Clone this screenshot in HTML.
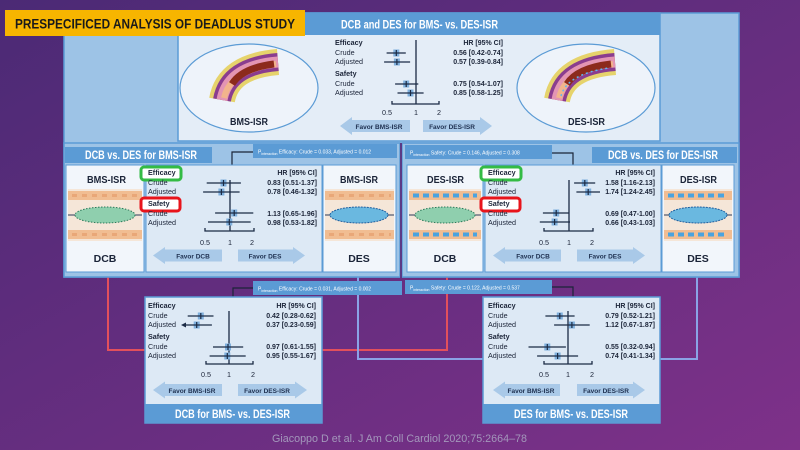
<!DOCTYPE html>
<html><head><meta charset="utf-8"><style>
html,body{margin:0;padding:0;width:800px;height:450px;overflow:hidden}
svg{display:block}
text{font-family:"Liberation Sans",sans-serif}
.l{font-size:7.2px;fill:#1b2438}
.b{font-weight:bold}
.v{font-size:7px;fill:#1b2438;font-weight:bold;text-anchor:end}
.h{font-weight:bold;fill:#fff}
.ci{stroke:#1b2b45;stroke-width:1.2}
.pt{fill:#7fb0dd}
.ax{stroke:#1b2b45;stroke-width:1.3;fill:none}
.ar{fill:#a9c9e8}
.at{font-size:6.5px;font-weight:bold;fill:#1e3050;text-anchor:middle}
.pl{font-size:5px;fill:#fff}
</style></head><body>
<svg width="800" height="450" viewBox="0 0 800 450" xmlns="http://www.w3.org/2000/svg">
<defs>
<linearGradient id="bg" x1="0" y1="0" x2="1" y2="1">
<stop offset="0" stop-color="#4b2a75"/><stop offset="1" stop-color="#7e3189"/>
</linearGradient>
</defs>
<rect width="800" height="450" fill="url(#bg)"/>

<rect x="64" y="13" width="675" height="264" fill="#9dc3e6" stroke="#5b9bd5" stroke-width="1.5"/>

<rect x="178" y="13" width="482" height="128" fill="#e4edf7" stroke="#5b9bd5" stroke-width="1.5"/>
<rect x="178" y="13" width="482" height="22" fill="#5b9bd5"/>
<text x="341" y="28.5" class="h" font-size="11.5" textLength="157" lengthAdjust="spacingAndGlyphs">DCB and DES for BMS- vs. DES-ISR</text>

<ellipse cx="249" cy="88" rx="69" ry="44" fill="#eef3fa" stroke="#5b9bd5" stroke-width="1.2"/>
<g fill="none" stroke-linecap="butt">
<path d="M222,100 Q228,66 278,62" stroke="#e6d36c" stroke-width="26"/>
<path d="M222,100 Q228,66 278,62" stroke="#8a3d8f" stroke-width="18"/>
<path d="M222,100 Q228,66 278,62" stroke="#e395b3" stroke-width="11"/>
<path d="M224,98 Q230,70 276,64" stroke="#f2b48c" stroke-width="6"/>
<path d="M232,84 Q242,68 274,64" stroke="#8c2a1c" stroke-width="7"/>
</g>
<text x="230" y="125" class="b" font-size="10.5" fill="#1b2438" textLength="38" lengthAdjust="spacingAndGlyphs">BMS-ISR</text>

<ellipse cx="586" cy="88" rx="69" ry="44" fill="#eef3fa" stroke="#5b9bd5" stroke-width="1.2"/>
<g fill="none">
<path d="M557,100 Q563,66 615,62" stroke="#e6d36c" stroke-width="26"/>
<path d="M557,100 Q563,66 615,62" stroke="#8a3d8f" stroke-width="18"/>
<path d="M557,100 Q563,66 615,62" stroke="#e395b3" stroke-width="11"/>
<path d="M559,98 Q565,70 613,64" stroke="#f2b48c" stroke-width="6"/>
<path d="M567,84 Q577,68 611,64" stroke="#8c2a1c" stroke-width="7"/>
<path d="M561,96 Q567,74 609,68" stroke="#5fb6ef" stroke-width="1.5" stroke-dasharray="2 3"/>
</g>
<text x="568" y="125" class="b" font-size="10.5" fill="#1b2438" textLength="37" lengthAdjust="spacingAndGlyphs">DES-ISR</text>

<text x="335" y="45" class="l b">Efficacy</text>
<text x="335" y="55" class="l">Crude</text>
<text x="335" y="64" class="l">Adjusted</text>
<text x="335" y="76" class="l b">Safety</text>
<text x="335" y="86" class="l">Crude</text>
<text x="335" y="95" class="l">Adjusted</text>
<text x="503" y="45" class="v">HR [95% CI]</text>
<text x="503" y="55" class="v">0.56 [0.42-0.74]</text>
<text x="503" y="64" class="v">0.57 [0.39-0.84]</text>
<text x="503" y="86" class="v">0.75 [0.54-1.07]</text>
<text x="503" y="95" class="v">0.85 [0.58-1.25]</text>
<path class="ax" d="M416,40V104M392,101V104H439V101M416,104"/>
<g>
<rect class="pt" x="393.3" y="49.5" width="6" height="7"/><line class="ci" x1="386.6" x2="405.8" y1="53" y2="53"/><line class="ci" x1="396.3" x2="396.3" y1="50" y2="56"/>
<rect class="pt" x="393.9" y="58.5" width="6" height="7"/><line class="ci" x1="384.1" x2="410.1" y1="62" y2="62"/><line class="ci" x1="396.9" x2="396.9" y1="59" y2="65"/>
<rect class="pt" x="403.2" y="80.5" width="6" height="7"/><line class="ci" x1="395.1" x2="418.3" y1="84" y2="84"/><line class="ci" x1="406.2" x2="406.2" y1="81" y2="87"/>
<rect class="pt" x="407.5" y="89.5" width="6" height="7"/><line class="ci" x1="397.5" x2="423.6" y1="93" y2="93"/><line class="ci" x1="410.5" x2="410.5" y1="90" y2="96"/>
</g>
<text x="387" y="115" class="l" text-anchor="middle">0.5</text><text x="416" y="115" class="l" text-anchor="middle">1</text><text x="439" y="115" class="l" text-anchor="middle">2</text>
<polygon class="ar" points="340,126 352,117 352,120 410,120 410,132 352,132 352,135"/>
<text x="379" y="129" class="at">Favor BMS-ISR</text>
<polygon class="ar" points="492,126 480,117 480,120 423,120 423,132 480,132 480,135"/>
<text x="452" y="129" class="at">Favor DES-ISR</text>

<path d="M108,272V350H447V272" fill="none" stroke="#e2505c" stroke-width="2"/>
<path d="M358,272V359H697V272" fill="none" stroke="#8aa3e6" stroke-width="2"/>

<rect x="64" y="143" width="336" height="134" fill="#9dc3e6" stroke="#5b9bd5" stroke-width="1.5"/>
<rect x="65" y="147" width="147" height="16" fill="#5b9bd5"/>
<text x="85" y="159" class="h" font-size="11.5" textLength="112" lengthAdjust="spacingAndGlyphs">DCB vs. DES for BMS-ISR</text>
<rect x="253" y="144" width="144" height="14" fill="#5b9bd5"/>
<text x="258" y="153.5" class="pl">P<tspan font-size="3.5" dy="1.5">interaction</tspan><tspan dy="-1.5"> Efficacy: Crude = 0.033, Adjusted = 0.012</tspan></text>
<path d="M253,152H232V165" fill="none" stroke="#1b2438" stroke-width="1.2"/>
<rect x="66" y="165" width="78" height="107" fill="#f2f6fb" stroke="#5b9bd5"/>
<rect x="146" y="165" width="176" height="107" fill="#dde9f5" stroke="#5b9bd5"/>
<rect x="323" y="165" width="73" height="107" fill="#f2f6fb" stroke="#5b9bd5"/>
<text x="87" y="183" class="b" font-size="10.5" fill="#1b2438" textLength="39" lengthAdjust="spacingAndGlyphs">BMS-ISR</text>
<rect x="68" y="189" width="74" height="52" fill="#f5e6d8"/>
<rect x="68" y="191" width="74" height="9" fill="#f1bd92"/><rect x="68" y="230" width="74" height="9" fill="#f1bd92"/>
<path d="M72,195.5h66M72,234.5h66" stroke="#e9a778" stroke-width="3" stroke-dasharray="5 5"/>
<line x1="68" x2="142" y1="215" y2="215" stroke="#2a3a5a"/>
<ellipse cx="105" cy="215" rx="30" ry="8" fill="#8fcfae" stroke="#2a7a5a" stroke-dasharray="1.5 1.5"/>
<text x="105" y="262" class="b" font-size="10.5" text-anchor="middle" fill="#1b2438">DCB</text>
<text x="340" y="183" class="b" font-size="10.5" fill="#1b2438" textLength="38" lengthAdjust="spacingAndGlyphs">BMS-ISR</text>
<rect x="325" y="189" width="69" height="52" fill="#f5e6d8"/>
<rect x="325" y="191" width="69" height="9" fill="#f1bd92"/><rect x="325" y="230" width="69" height="9" fill="#f1bd92"/>
<path d="M329,195.5h62M329,234.5h62" stroke="#e9a778" stroke-width="3" stroke-dasharray="5 5"/>
<line x1="325" x2="394" y1="215" y2="215" stroke="#2a3a5a"/>
<ellipse cx="359" cy="215" rx="29" ry="8" fill="#6ab8e0" stroke="#1f5f9f" stroke-dasharray="2 1"/>
<text x="359" y="262" class="b" font-size="10.5" text-anchor="middle" fill="#1b2438">DES</text>
<rect x="141" y="167" width="40" height="13" rx="3" fill="#fff" stroke="#33bb44" stroke-width="3"/>
<rect x="141" y="198" width="39" height="13" rx="3" fill="#fff" stroke="#e8141b" stroke-width="3"/>
<text x="148" y="175" class="l b">Efficacy</text>
<text x="148" y="185" class="l">Crude</text>
<text x="148" y="194" class="l">Adjusted</text>
<text x="148" y="206" class="l b">Safety</text>
<text x="148" y="216" class="l">Crude</text>
<text x="148" y="225" class="l">Adjusted</text>
<text x="317" y="175" class="v">HR [95% CI]</text>
<text x="317" y="185" class="v">0.83 [0.51-1.37]</text>
<text x="317" y="194" class="v">0.78 [0.46-1.32]</text>
<text x="317" y="216" class="v">1.13 [0.65-1.96]</text>
<text x="317" y="225" class="v">0.98 [0.53-1.82]</text>
<path class="ax" d="M230,180V231M205,228V231H254V228"/>
<rect class="pt" x="220.5" y="179.5" width="6" height="7"/><line class="ci" x1="206.7" x2="240.9" y1="183" y2="183"/><line class="ci" x1="223.5" x2="223.5" y1="180" y2="186"/>
<rect class="pt" x="218.4" y="188.5" width="6" height="7"/><line class="ci" x1="203.1" x2="239.6" y1="192" y2="192"/><line class="ci" x1="221.4" x2="221.4" y1="189" y2="195"/>
<rect class="pt" x="231.2" y="209.5" width="6" height="7"/><line class="ci" x1="215.1" x2="253.3" y1="213" y2="213"/><line class="ci" x1="234.2" x2="234.2" y1="210" y2="216"/>
<rect class="pt" x="226.3" y="218.5" width="6" height="7"/><line class="ci" x1="208" x2="250.7" y1="222" y2="222"/><line class="ci" x1="229.3" x2="229.3" y1="219" y2="225"/>
<text x="205" y="245" class="l" text-anchor="middle">0.5</text><text x="230" y="245" class="l" text-anchor="middle">1</text><text x="252" y="245" class="l" text-anchor="middle">2</text>
<polygon class="ar" points="153,255.5 165,247 165,249.5 222,249.5 222,261.5 165,261.5 165,264"/>
<text x="193" y="258.5" class="at">Favor DCB</text>
<polygon class="ar" points="305,255.5 293,247 293,249.5 238,249.5 238,261.5 293,261.5 293,264"/>
<text x="265" y="258.5" class="at">Favor DES</text>

<rect x="402" y="143" width="337" height="134" fill="#9dc3e6" stroke="#5b9bd5" stroke-width="1.5"/>
<line x1="401" x2="401" y1="143" y2="278" stroke="#5a3a86" stroke-width="2"/>
<rect x="592" y="147" width="145" height="16" fill="#5b9bd5"/>
<text x="608" y="159" class="h" font-size="11.5" textLength="110" lengthAdjust="spacingAndGlyphs">DCB vs. DES for DES-ISR</text>
<rect x="405" y="145" width="147" height="14" fill="#5b9bd5"/>
<text x="410" y="154.5" class="pl">P<tspan font-size="3.5" dy="1.5">interaction</tspan><tspan dy="-1.5"> Safety: Crude = 0.146, Adjusted = 0.308</tspan></text>
<path d="M552,153H573V165" fill="none" stroke="#1b2438" stroke-width="1.2"/>
<rect x="407" y="165" width="76" height="107" fill="#f2f6fb" stroke="#5b9bd5"/>
<rect x="485" y="165" width="176" height="107" fill="#dde9f5" stroke="#5b9bd5"/>
<rect x="662" y="165" width="72" height="107" fill="#f2f6fb" stroke="#5b9bd5"/>
<text x="427" y="183" class="b" font-size="10.5" fill="#1b2438" textLength="37" lengthAdjust="spacingAndGlyphs">DES-ISR</text>
<rect x="409" y="189" width="72" height="52" fill="#f5e6d8"/>
<rect x="409" y="191" width="72" height="9" fill="#f1bd92"/><rect x="409" y="230" width="72" height="9" fill="#f1bd92"/>
<path d="M413,195.5h64M413,234.5h64" stroke="#4aa3df" stroke-width="4" stroke-dasharray="6 4"/>
<line x1="409" x2="481" y1="215" y2="215" stroke="#2a3a5a"/>
<ellipse cx="445" cy="215" rx="30" ry="8" fill="#8fcfae" stroke="#2a7a5a" stroke-dasharray="1.5 1.5"/>
<text x="445" y="262" class="b" font-size="10.5" text-anchor="middle" fill="#1b2438">DCB</text>
<text x="680" y="183" class="b" font-size="10.5" fill="#1b2438" textLength="37" lengthAdjust="spacingAndGlyphs">DES-ISR</text>
<rect x="664" y="189" width="68" height="52" fill="#f5e6d8"/>
<rect x="664" y="191" width="68" height="9" fill="#f1bd92"/><rect x="664" y="230" width="68" height="9" fill="#f1bd92"/>
<path d="M668,195.5h60M668,234.5h60" stroke="#4aa3df" stroke-width="4" stroke-dasharray="6 4"/>
<line x1="664" x2="732" y1="215" y2="215" stroke="#2a3a5a"/>
<ellipse cx="698" cy="215" rx="29" ry="8" fill="#6ab8e0" stroke="#1f5f9f" stroke-dasharray="2 1"/>
<text x="698" y="262" class="b" font-size="10.5" text-anchor="middle" fill="#1b2438">DES</text>
<rect x="481" y="167" width="40" height="13" rx="3" fill="#fff" stroke="#33bb44" stroke-width="3"/>
<rect x="481" y="198" width="39" height="13" rx="3" fill="#fff" stroke="#e8141b" stroke-width="3"/>
<text x="488" y="175" class="l b">Efficacy</text>
<text x="488" y="185" class="l">Crude</text>
<text x="488" y="194" class="l">Adjusted</text>
<text x="488" y="206" class="l b">Safety</text>
<text x="488" y="216" class="l">Crude</text>
<text x="488" y="225" class="l">Adjusted</text>
<text x="655" y="175" class="v">HR [95% CI]</text>
<text x="655" y="185" class="v">1.58 [1.16-2.13]</text>
<text x="655" y="194" class="v">1.74 [1.24-2.45]</text>
<text x="655" y="216" class="v">0.69 [0.47-1.00]</text>
<text x="655" y="225" class="v">0.66 [0.43-1.03]</text>
<path class="ax" d="M569,180V231M544,228V231H593V228"/>
<rect class="pt" x="581.8" y="179.5" width="6" height="7"/><line class="ci" x1="574.1" x2="595.2" y1="183" y2="183"/><line class="ci" x1="584.8" x2="584.8" y1="180" y2="186"/>
<rect class="pt" x="585.2" y="188.5" width="6" height="7"/><line class="ci" x1="576.4" x2="600" y1="192" y2="192"/><line class="ci" x1="588.2" x2="588.2" y1="189" y2="195"/>
<rect class="pt" x="553.2" y="209.5" width="6" height="7"/><line class="ci" x1="542.9" x2="569" y1="213" y2="213"/><line class="ci" x1="556.2" x2="556.2" y1="210" y2="216"/>
<rect class="pt" x="551.6" y="218.5" width="6" height="7"/><line class="ci" x1="539.8" x2="570" y1="222" y2="222"/><line class="ci" x1="554.6" x2="554.6" y1="219" y2="225"/>
<text x="544" y="245" class="l" text-anchor="middle">0.5</text><text x="569" y="245" class="l" text-anchor="middle">1</text><text x="592" y="245" class="l" text-anchor="middle">2</text>
<polygon class="ar" points="493,255.5 505,247 505,249.5 561,249.5 561,261.5 505,261.5 505,264"/>
<text x="533" y="258.5" class="at">Favor DCB</text>
<polygon class="ar" points="645,255.5 633,247 633,249.5 577,249.5 577,261.5 633,261.5 633,264"/>
<text x="605" y="258.5" class="at">Favor DES</text>

<rect x="5" y="10" width="300" height="26" fill="#f7b500"/>
<text x="15" y="28.5" font-size="14" font-weight="bold" fill="#1a1a1a" textLength="280" lengthAdjust="spacingAndGlyphs">PRESPECIFICED ANALYSIS OF DEADLUS STUDY</text>

<rect x="253" y="281" width="149" height="14" fill="#5b9bd5"/>
<text x="258" y="290.5" class="pl">P<tspan font-size="3.5" dy="1.5">interaction</tspan><tspan dy="-1.5"> Efficacy: Crude = 0.031, Adjusted = 0.002</tspan></text>
<path d="M253,288H233V297" fill="none" stroke="#1b2438" stroke-width="1.2"/>
<rect x="405" y="280" width="147" height="14" fill="#5b9bd5"/>
<text x="410" y="289.5" class="pl">P<tspan font-size="3.5" dy="1.5">interaction</tspan><tspan dy="-1.5"> Safety: Crude = 0.122, Adjusted = 0.537</tspan></text>
<path d="M552,287H573V297" fill="none" stroke="#1b2438" stroke-width="1.2"/>

<rect x="145" y="297" width="177" height="126" fill="#dde9f5" stroke="#5b9bd5" stroke-width="1.5"/>
<rect x="145" y="404" width="177" height="19" fill="#5b9bd5"/>
<text x="175" y="418" class="h" font-size="11.5" textLength="115" lengthAdjust="spacingAndGlyphs">DCB for BMS- vs. DES-ISR</text>
<text x="148" y="308" class="l b">Efficacy</text>
<text x="148" y="318" class="l">Crude</text>
<text x="148" y="327" class="l">Adjusted</text>
<text x="148" y="339" class="l b">Safety</text>
<text x="148" y="349" class="l">Crude</text>
<text x="148" y="358" class="l">Adjusted</text>
<text x="316" y="308" class="v">HR [95% CI]</text>
<text x="316" y="318" class="v">0.42 [0.28-0.62]</text>
<text x="316" y="327" class="v">0.37 [0.23-0.59]</text>
<text x="316" y="349" class="v">0.97 [0.61-1.55]</text>
<text x="316" y="358" class="v">0.95 [0.55-1.67]</text>
<path class="ax" d="M229,311V364M206,361V364H253V361"/>
<rect class="pt" x="197.8" y="312.5" width="6" height="7"/><line class="ci" x1="187.7" x2="213.5" y1="316" y2="316"/><line class="ci" x1="200.8" x2="200.8" y1="313" y2="319"/>
<rect class="pt" x="193.7" y="321.5" width="6" height="7"/><line class="ci" x1="185" x2="211.9" y1="325" y2="325"/><line class="ci" x1="196.7" x2="196.7" y1="322" y2="328"/>
<polygon points="181,325 186,322.5 186,327.5" fill="#1b2b45"/>
<rect class="pt" x="225" y="343.5" width="6" height="7"/><line class="ci" x1="213" x2="243.2" y1="347" y2="347"/><line class="ci" x1="228" x2="228" y1="344" y2="350"/>
<rect class="pt" x="224.3" y="352.5" width="6" height="7"/><line class="ci" x1="209.6" x2="245.7" y1="356" y2="356"/><line class="ci" x1="227.3" x2="227.3" y1="353" y2="359"/>
<text x="206" y="377" class="l" text-anchor="middle">0.5</text><text x="229" y="377" class="l" text-anchor="middle">1</text><text x="253" y="377" class="l" text-anchor="middle">2</text>
<polygon class="ar" points="153,390 165,381.5 165,384 222,384 222,396 165,396 165,398.5"/>
<text x="192" y="393" class="at">Favor BMS-ISR</text>
<polygon class="ar" points="307,390 295,381.5 295,384 238,384 238,396 295,396 295,398.5"/>
<text x="267" y="393" class="at">Favor DES-ISR</text>

<rect x="483" y="297" width="177" height="126" fill="#dde9f5" stroke="#5b9bd5" stroke-width="1.5"/>
<rect x="483" y="404" width="177" height="19" fill="#5b9bd5"/>
<text x="514" y="418" class="h" font-size="11.5" textLength="114" lengthAdjust="spacingAndGlyphs">DES for BMS- vs. DES-ISR</text>
<text x="488" y="308" class="l b">Efficacy</text>
<text x="488" y="318" class="l">Crude</text>
<text x="488" y="327" class="l">Adjusted</text>
<text x="488" y="339" class="l b">Safety</text>
<text x="488" y="349" class="l">Crude</text>
<text x="488" y="358" class="l">Adjusted</text>
<text x="655" y="308" class="v">HR [95% CI]</text>
<text x="655" y="318" class="v">0.79 [0.52-1.21]</text>
<text x="655" y="327" class="v">1.12 [0.67-1.87]</text>
<text x="655" y="349" class="v">0.55 [0.32-0.94]</text>
<text x="655" y="358" class="v">0.74 [0.41-1.34]</text>
<path class="ax" d="M568,311V364M544,361V364H592V361"/>
<rect class="pt" x="556.8" y="312.5" width="6" height="7"/><line class="ci" x1="545.4" x2="574.6" y1="316" y2="316"/><line class="ci" x1="559.8" x2="559.8" y1="313" y2="319"/>
<rect class="pt" x="568.9" y="321.5" width="6" height="7"/><line class="ci" x1="554.1" x2="589.7" y1="325" y2="325"/><line class="ci" x1="571.9" x2="571.9" y1="322" y2="328"/>
<rect class="pt" x="544.3" y="343.5" width="6" height="7"/><line class="ci" x1="528.5" x2="565.9" y1="347" y2="347"/><line class="ci" x1="547.3" x2="547.3" y1="344" y2="350"/>
<rect class="pt" x="554.6" y="352.5" width="6" height="7"/><line class="ci" x1="537.1" x2="578.1" y1="356" y2="356"/><line class="ci" x1="557.6" x2="557.6" y1="353" y2="359"/>
<text x="544" y="377" class="l" text-anchor="middle">0.5</text><text x="568" y="377" class="l" text-anchor="middle">1</text><text x="592" y="377" class="l" text-anchor="middle">2</text>
<polygon class="ar" points="493,390 505,381.5 505,384 560,384 560,396 505,396 505,398.5"/>
<text x="531" y="393" class="at">Favor BMS-ISR</text>
<polygon class="ar" points="645,390 633,381.5 633,384 577,384 577,396 633,396 633,398.5"/>
<text x="606" y="393" class="at">Favor DES-ISR</text>

<text x="272" y="442" font-size="11" fill="#a397bb" textLength="255" lengthAdjust="spacingAndGlyphs">Giacoppo D et al.  J Am Coll Cardiol 2020;75:2664–78</text>
</svg>
</body></html>
